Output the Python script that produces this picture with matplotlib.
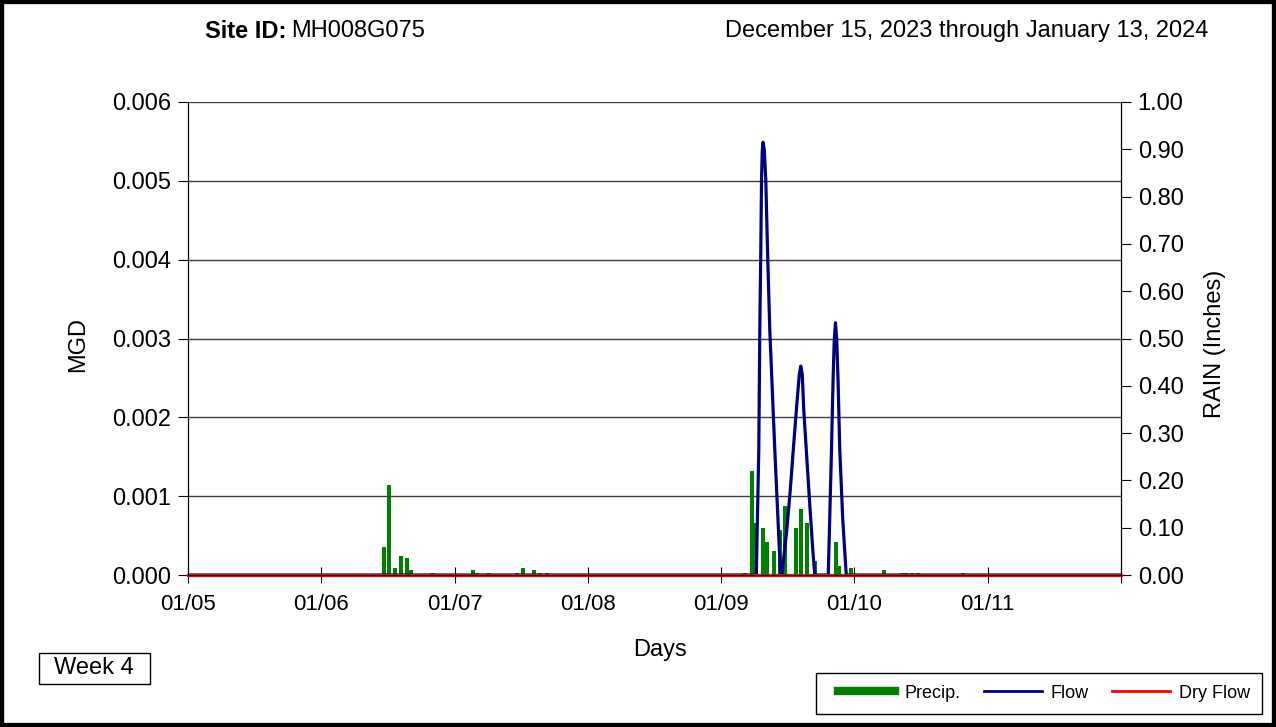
import matplotlib.pyplot as plt
import numpy as np
from matplotlib.lines import Line2D
from matplotlib.patches import Rectangle

plt.rcParams['font.family'] = ['Liberation Sans', 'DejaVu Sans']

# hours counted from 01/05 00:00
precip_hours = [35.3, 36.2, 37.3, 38.3, 39.5, 40.2, 44.2, 51.3, 52.0, 54.2, 59.3, 60.3,
                62.3, 63.4, 64.6, 100.3, 101.5, 102.2, 103.5, 104.3, 105.5, 106.6, 107.5,
                109.4, 110.3, 111.4, 112.9, 116.6, 117.3, 119.4, 125.3, 128.5, 129.2,
                130.4, 131.5, 139.6]
precip_in = [0.06, 0.19, 0.015, 0.04, 0.035, 0.01, 0.005, 0.01, 0.005, 0.005, 0.005, 0.015,
             0.01, 0.005, 0.005, 0.005, 0.22, 0.11, 0.10, 0.07, 0.05, 0.095, 0.145,
             0.10, 0.14, 0.11, 0.03, 0.07, 0.02, 0.015, 0.01, 0.005, 0.005,
             0.005, 0.005, 0.005]

flow_hours = [0, 102.33, 102.78, 102.96, 103.14, 103.27, 103.41, 103.55, 103.77, 104.04,
              104.35, 104.76, 105.66, 106.69, 106.92, 107.82, 108.45, 108.99, 109.62,
              110.07, 110.34, 110.61, 110.88, 111.33, 111.96, 112.5, 112.86, 115.29,
              115.87, 116.15, 116.37, 116.59, 116.82, 117.05, 117.36, 117.9, 118.53, 168]
flow_mgd = [0, 0, 0.00159, 0.00311, 0.00412, 0.00501, 0.00539, 0.00549, 0.00539, 0.00501,
            0.00412, 0.00311, 0.00159, 0, 0, 0.00057, 0.00108, 0.00159, 0.00216,
            0.00254, 0.00265, 0.00254, 0.00209, 0.00159, 0.00089, 0.00032, 0, 0,
            0.00159, 0.00247, 0.00298, 0.0032, 0.00298, 0.00247, 0.00159, 0.0007, 0, 0]

dry_hours = [0, 168]
dry_mgd = [0, 0]

day_labels = ['01/05', '01/06', '01/07', '01/08', '01/09', '01/10', '01/11', '']

px = np.array(precip_hours) / 24
fx = np.array(flow_hours) / 24
dx = np.array(dry_hours) / 24

W, H = 1276, 727
fig = plt.figure(figsize=(W / 100, H / 100), dpi=100)
ax = fig.add_axes([188 / W, 1 - 575 / H, (1121 - 188) / W, (575 - 102) / H])
ax2 = ax.twinx()

ax2.bar(px, precip_in, width=0.03, color='#008000', align='center')
ax2.set_ylim(0, 1.0)
ax2.set_yticks(np.arange(0, 1.01, 0.1))
ax2.set_yticklabels(['%.2f' % v for v in np.arange(0, 1.01, 0.1)])

ax.set_zorder(ax2.get_zorder() + 1)
ax.patch.set_visible(False)
ax.plot(fx, flow_mgd, color='#000080', lw=2.3)
ax.plot(dx, dry_mgd, color='#ff0000', lw=2.3, clip_on=False)
ax.set_ylim(0, 0.006)
ax.set_xlim(0, 7)
ax.set_yticks(np.arange(0, 0.0061, 0.001))
ax.set_yticklabels(['%.3f' % v for v in np.arange(0, 0.0061, 0.001)])
ax.set_xticks(np.arange(8))
ax.set_xticklabels(day_labels)
ax.yaxis.grid(True, color='#404040', lw=1)

for a in (ax, ax2):
    a.spines['top'].set_visible(False)
ax.tick_params(axis='y', direction='out', length=7, labelsize=17, pad=5)
ax.tick_params(axis='x', direction='inout', length=11, labelsize=16, pad=8)
ax2.tick_params(axis='y', direction='out', length=7, labelsize=17, pad=5)

fig.text(78 / W, 1 - 344 / H, 'MGD', rotation=90, ha='center', va='center', fontsize=17)
fig.text(1215 / W, 1 - 344 / H, 'RAIN (Inches)', rotation=90, ha='center', va='center',
         fontsize=17)
fig.text(660 / W, 1 - 650 / H, 'Days', ha='center', va='center', fontsize=17)

fig.text(205 / W, 1 - 31 / H, 'Site ID:', ha='left', va='center', fontsize=17,
         fontweight='bold')
fig.text(291 / W, 1 - 31 / H, 'MH008G075', ha='left', va='center', fontsize=17)
fig.text(1208 / W, 1 - 31 / H, 'December 15, 2023 through January 13, 2024', ha='right',
         va='center', fontsize=17)

# week box
fig.patches.append(Rectangle((39 / W, 1 - 684 / H), 111 / W, 31 / H,
                             transform=fig.transFigure, fill=False, edgecolor='black', lw=1))
fig.text(94 / W, 1 - 668 / H, 'Week 4', ha='center', va='center', fontsize=17)

# legend
handles = [Line2D([], [], color='#008000', lw=6),
           Line2D([], [], color='#000080', lw=2),
           Line2D([], [], color='#ff0000', lw=2)]
fig.legend(handles, ['Precip.', 'Flow', 'Dry Flow'], ncol=3, loc='center',
           bbox_to_anchor=(1044 / W, 1 - 693 / H), fontsize=13, frameon=False,
           handlelength=3.2, handletextpad=0.5, columnspacing=1.3)
fig.patches.append(Rectangle((816 / W, 1 - 714 / H), 446 / W, 41 / H,
                             transform=fig.transFigure, fill=False, edgecolor='black', lw=1))

fig.patches.append(Rectangle((0, 0), 1, 1, transform=fig.transFigure, fill=False,
                             edgecolor='black', lw=6))

fig.savefig('out.png', dpi=100)
